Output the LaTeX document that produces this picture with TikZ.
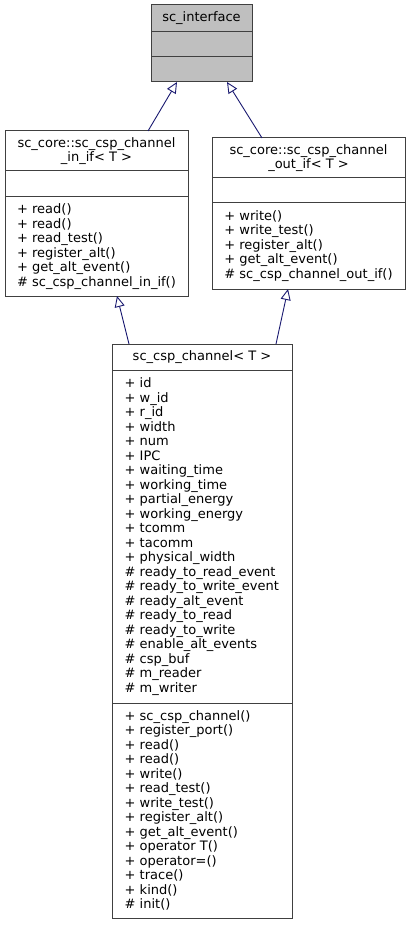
\documentclass[tikz,border=0pt]{standalone}
\usepackage{fontspec}
\setmainfont{DejaVu Sans}
\usetikzlibrary{arrows.meta,positioning}
\definecolor{edgeblue}{HTML}{191970}
\definecolor{boxgray}{HTML}{404040}
\definecolor{ifacegray}{HTML}{BFBFBF}
\tikzset{
  umlpart/.style={draw=boxgray, line width=1pt, fill=white, outer sep=0pt, inner xsep=2pt, inner ysep=0pt, font=\fontsize{13}{14.5}\selectfont},
  umltitle/.style={umlpart, align=center},
  umllist/.style={umlpart, align=left},
  inherit/.style={draw=edgeblue, line width=0.9pt, -{Triangle[open, length=11pt, width=10pt]}}
}

\begin{document}
\begin{tikzpicture}[x=1pt,y=-1pt]
\useasboundingbox (0,0) rectangle (410,925);

\node[umltitle, fill=ifacegray, minimum width=101pt, minimum height=27pt, anchor=north west] (iface) at (151,5) {sc\_interface};
\node[umlpart, fill=ifacegray, minimum width=101pt, minimum height=25pt, below=0pt of iface] (iface attr) {};
\node[umlpart, fill=ifacegray, minimum width=101pt, minimum height=25pt, below=0pt of iface attr] (iface meth) {};

\node[umltitle, minimum width=183pt, minimum height=40pt, anchor=north west] (inif) at (5,131) {sc\_core::sc\_csp\_channel\\\_in\_if< T >};
\node[umlpart, minimum width=183pt, minimum height=26pt, below=0pt of inif] (inif attr) {};
\node[umllist, minimum width=183pt, minimum height=99pt, below=0pt of inif attr] (inif meth) {+ read()\\+ read()\\+ read\_test()\\+ register\_alt()\\+ get\_alt\_event()\\\# sc\_csp\_channel\_in\_if()};

\node[umltitle, minimum width=193pt, minimum height=40pt, anchor=north west] (outif) at (212,138) {sc\_core::sc\_csp\_channel\\\_out\_if< T >};
\node[umlpart, minimum width=193pt, minimum height=25pt, below=0pt of outif] (outif attr) {};
\node[umllist, minimum width=193pt, minimum height=86pt, below=0pt of outif attr] (outif meth) {+ write()\\+ write\_test()\\+ register\_alt()\\+ get\_alt\_event()\\\# sc\_csp\_channel\_out\_if()};

\node[umltitle, minimum width=180pt, minimum height=26pt, anchor=north west] (chan) at (112,344) {sc\_csp\_channel< T >};
\node[umllist, text width=155pt, minimum width=180pt, minimum height=333pt, below=0pt of chan] (chan attr) {+ id\\+ w\_id\\+ r\_id\\+ width\\+ num\\+ IPC\\+ waiting\_time\\+ working\_time\\+ partial\_energy\\+ working\_energy\\+ tcomm\\+ tacomm\\+ physical\_width\\\# ready\_to\_read\_event\\\# ready\_to\_write\_event\\\# ready\_alt\_event\\\# ready\_to\_read\\\# ready\_to\_write\\\# enable\_alt\_events\\\# csp\_buf\\\# m\_reader\\\# m\_writer};
\node[umllist, text width=155pt, minimum width=180pt, minimum height=215pt, below=0pt of chan attr] (chan meth) {+ sc\_csp\_channel()\\+ register\_port()\\+ read()\\+ read()\\+ write()\\+ read\_test()\\+ write\_test()\\+ register\_alt()\\+ get\_alt\_event()\\+ operator T()\\+ operator=()\\+ trace()\\+ kind()\\\# init()};

\draw[inherit] ([xshift=51.5pt]inif.north) -- ([xshift=-24.5pt]iface meth.south);
\draw[inherit] ([xshift=-46.5pt]outif.north) -- ([xshift=25.5pt]iface meth.south);
\draw[inherit] ([xshift=-73pt]chan.north) -- ([xshift=20.5pt]inif meth.south);
\draw[inherit] ([xshift=74pt]chan.north) -- ([xshift=-20.5pt]outif meth.south);
\end{tikzpicture}
\end{document}
